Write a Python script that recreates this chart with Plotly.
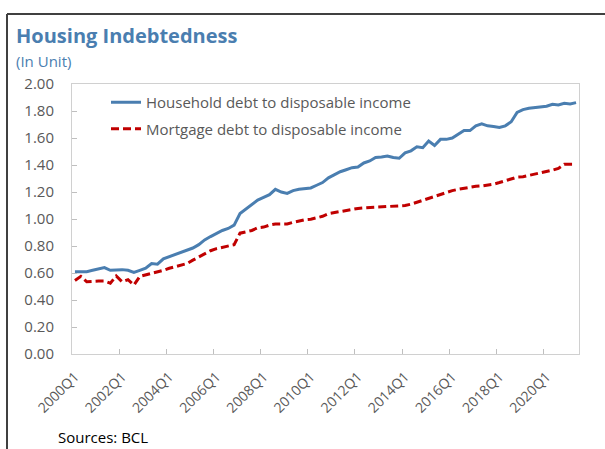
import plotly.graph_objects as go

# Quarterly categories 2000Q1 .. 2021Q2
years = list(range(2000, 2022))
quarters = [f"{y}Q{q}" for y in years for q in (1, 2, 3, 4)][:86]

household_debt = [
    0.61, 0.61, 0.61, 0.62, 0.63, 0.64, 0.62, 0.625, 0.625, 0.62,
    0.605, 0.62, 0.635, 0.67, 0.665, 0.705, 0.72, 0.735, 0.75, 0.77,
    0.785, 0.81, 0.845, 0.87, 0.895, 0.915, 0.93, 0.955, 1.04, 1.075,
    1.105, 1.14, 1.16, 1.18, 1.22, 1.20, 1.19, 1.21, 1.22, 1.225,
    1.23, 1.25, 1.27, 1.305, 1.33, 1.35, 1.365, 1.38, 1.385, 1.415,
    1.43, 1.455, 1.46, 1.467, 1.455, 1.45, 1.49, 1.505, 1.535, 1.528,
    1.578, 1.545, 1.59, 1.59, 1.60, 1.63, 1.655, 1.655, 1.69, 1.705,
    1.69, 1.685, 1.678, 1.69, 1.72, 1.79, 1.81, 1.82, 1.825, 1.83,
    1.835, 1.85, 1.845, 1.857, 1.852, 1.862,
]

mortgage_debt = [
    0.545, 0.575, 0.535, 0.54, 0.54, 0.54, 0.525, 0.578, 0.535, 0.55,
    0.51, 0.575, 0.585, 0.595, 0.61, 0.62, 0.635, 0.645, 0.66, 0.67,
    0.695, 0.72, 0.745, 0.765, 0.78, 0.79, 0.80, 0.81, 0.895, 0.905,
    0.915, 0.935, 0.94, 0.955, 0.963, 0.963, 0.963, 0.975, 0.985, 0.995,
    0.998, 1.01, 1.02, 1.04, 1.048, 1.054, 1.062, 1.07, 1.078, 1.082,
    1.084, 1.09, 1.091, 1.091, 1.092, 1.094, 1.10, 1.11, 1.125, 1.14,
    1.155, 1.17, 1.185, 1.20, 1.21, 1.22, 1.228, 1.238, 1.242, 1.245,
    1.25, 1.258, 1.27, 1.285, 1.30, 1.31, 1.313, 1.322, 1.333, 1.342,
    1.35, 1.362, 1.375, 1.405, 1.405, 1.405,
]

series_names = ["Household debt to disposable income",
                "Mortgage debt to disposable income"]

W, H = 605, 449
ML, MR, MT, MB = 72, 26, 84, 95
PW, PH = W - ML - MR, H - MT - MB


def px(x):
    return (x - ML) / PW


def py(y):
    return (H - MB - y) / PH


FONT = "Open Sans"
BLUE = "#4a7eb0"
RED = "#c00000"
GREY_TXT = "#595959"

fig = go.Figure()
fig.add_trace(go.Scatter(
    x=quarters, y=household_debt, mode="lines", name=series_names[0],
    line=dict(color=BLUE, width=3), legendgroup="a"))
fig.add_trace(go.Scatter(
    x=quarters, y=mortgage_debt, mode="lines", name=series_names[1],
    line=dict(color=RED, width=3, dash="8px,4px"), legendgroup="b"))

fig.update_layout(
    width=W, height=H,
    margin=dict(l=ML, r=MR, t=MT, b=MB),
    paper_bgcolor="white", plot_bgcolor="white",
    font=dict(family=FONT, color=GREY_TXT),
    showlegend=True,
    legend=dict(
        x=px(106), y=py(86), xanchor="left", yanchor="top",
        font=dict(size=15, color=GREY_TXT, family=FONT),
        bgcolor="rgba(0,0,0,0)", itemwidth=30,
        traceorder="grouped", tracegroupgap=4,
    ),
    xaxis=dict(
        type="category", categoryorder="array", categoryarray=quarters,
        range=[-0.5, len(quarters) - 0.5],
        tickmode="linear", tick0=0, dtick=8, tickson="boundaries",
        ticks="inside", ticklen=5, tickcolor="#bfbfbf",
        tickangle=-45, tickfont=dict(size=14, color=GREY_TXT),
        ticklabelstandoff=8,
        showline=True, linecolor="#d0d0d0", linewidth=1, mirror=True,
        showgrid=False, zeroline=False,
    ),
    yaxis=dict(
        range=[0, 2], tickmode="linear", tick0=0, dtick=0.2,
        tickformat=".2f", ticks="inside", ticklen=5, tickcolor="#bfbfbf",
        tickfont=dict(size=15, color=GREY_TXT), ticklabelstandoff=14,
        showline=True, linecolor="#d0d0d0", linewidth=1, mirror=True,
        showgrid=False, zeroline=False,
    ),
)

fig.add_annotation(
    text="<b>Housing Indebtedness</b>", xref="paper", yref="paper",
    x=px(14), y=py(36), xanchor="left", yanchor="middle", showarrow=False,
    font=dict(size=20, color=BLUE, family=FONT))
fig.add_annotation(
    text="(In Unit)", xref="paper", yref="paper",
    x=px(14), y=py(61), xanchor="left", yanchor="middle", showarrow=False,
    font=dict(size=15, color=BLUE, family=FONT))
fig.add_annotation(
    text="Sources: BCL", xref="paper", yref="paper",
    x=px(56), y=py(437), xanchor="left", yanchor="middle", showarrow=False,
    font=dict(size=15, color="#000000", family=FONT))

# outer frame (top and left edges)
fig.add_shape(type="line", xref="paper", yref="paper",
              x0=px(7), x1=px(605), y0=py(14), y1=py(14),
              line=dict(color="#404040", width=2))
fig.add_shape(type="line", xref="paper", yref="paper",
              x0=px(7), x1=px(7), y0=py(14), y1=py(449),
              line=dict(color="#404040", width=2))

fig.write_html("out.html")
